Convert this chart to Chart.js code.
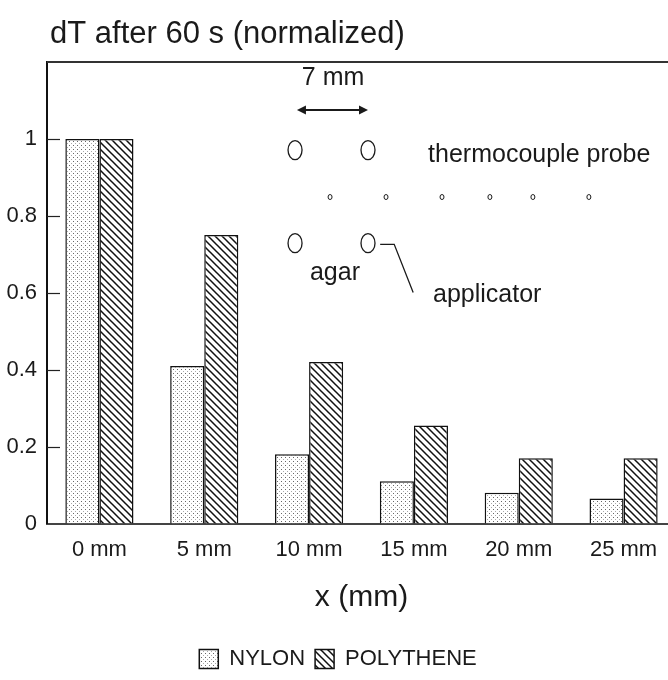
<!DOCTYPE html>
<html>
<head>
<meta charset="utf-8">
<script src="https://cdn.jsdelivr.net/npm/chart.js@4.4.1/dist/chart.umd.min.js"></script>
<style>
  html, body { margin: 0; padding: 0; background: #fff; overflow: hidden; }
  #wrap { width: 676px; height: 680px; }
</style>
</head>
<body>
<div id="wrap"><canvas id="chart"></canvas></div>
<script>
const categories = ["0 mm", "5 mm", "10 mm", "15 mm", "20 mm", "25 mm"];
const nylon = [1.0, 0.41, 0.18, 0.11, 0.08, 0.065];
const polythene = [1.0, 0.75, 0.42, 0.255, 0.17, 0.17];
const yTicks = [0, 0.2, 0.4, 0.6, 0.8, 1];

const FONT = "'Liberation Sans', Arial, sans-serif";
const INK = "#1a1a1a";

// stipple fill for nylon
function dotPattern() {
  const c = document.createElement("canvas");
  c.width = 4; c.height = 4;
  const g = c.getContext("2d");
  g.fillStyle = "#fff";
  g.fillRect(0, 0, 4, 4);
  g.fillStyle = "#666";
  g.fillRect(1, 1, 1, 1);
  g.fillStyle = "#aaa";
  g.fillRect(3, 3, 1, 1);
  return g.createPattern(c, "repeat");
}

// backslash hatch for polythene
function hatchPattern() {
  const s = 7;
  const c = document.createElement("canvas");
  c.width = s; c.height = s;
  const g = c.getContext("2d");
  g.fillStyle = "#fff";
  g.fillRect(0, 0, s, s);
  g.strokeStyle = "#111";
  g.lineWidth = 1.5;
  g.beginPath();
  g.moveTo(-1, -1); g.lineTo(s + 1, s + 1);
  g.moveTo(-1, s - 1); g.lineTo(1, s + 1);
  g.moveTo(s - 1, -1); g.lineTo(s + 1, 1);
  g.stroke();
  return g.createPattern(c, "repeat");
}

// the sketch of the set-up, in data units
const bigRings = [[1.866, 0.971], [2.562, 0.971], [1.866, 0.729], [2.562, 0.729]];
const probes = [[2.20, 0.849], [2.734, 0.849], [3.268, 0.849], [3.725, 0.849], [4.135, 0.849], [4.669, 0.849]];
const notes = [
  { text: "7 mm", x: 2.229, y: 1.158, size: 25, align: "center" },
  { text: "thermocouple probe", x: 3.135, y: 0.958, size: 25, align: "left" },
  { text: "agar", x: 2.008, y: 0.651, size: 25, align: "left" },
  { text: "applicator", x: 3.182, y: 0.593, size: 25, align: "left" }
];
const arrow = [1.884, 2.562, 1.075];
const leader = [[2.678, 0.726], [2.812, 0.726], [2.993, 0.601]];

const extras = {
  id: "extras",
  afterDatasetsDraw(chart) {
    const { ctx, chartArea: a, scales: { x, y } } = chart;
    ctx.save();

    // frame top line and inner tick marks
    ctx.strokeStyle = "#333";
    ctx.lineWidth = 2;
    ctx.beginPath();
    ctx.moveTo(a.left, a.top); ctx.lineTo(a.right, a.top);
    ctx.stroke();
    ctx.lineWidth = 1.2;
    ctx.strokeStyle = "#222";
    yTicks.forEach(v => {
      if (v === 0) return;
      const py = Math.round(y.getPixelForValue(v)) + 0.5;
      ctx.beginPath();
      ctx.moveTo(a.left, py); ctx.lineTo(a.left + 13, py);
      ctx.stroke();
    });

    // sketch
    ctx.strokeStyle = INK;
    ctx.lineWidth = 1.3;
    bigRings.forEach(([i, v]) => {
      ctx.beginPath();
      ctx.ellipse(x.getPixelForValue(i), y.getPixelForValue(v), 7, 9.5, 0, 0, Math.PI * 2);
      ctx.stroke();
    });
    ctx.lineWidth = 1;
    probes.forEach(([i, v]) => {
      ctx.beginPath();
      ctx.ellipse(x.getPixelForValue(i), y.getPixelForValue(v), 2, 2.5, 0, 0, Math.PI * 2);
      ctx.stroke();
    });

    // 7 mm arrow
    const ax1 = x.getPixelForValue(arrow[0]), ax2 = x.getPixelForValue(arrow[1]);
    const ay = y.getPixelForValue(arrow[2]);
    ctx.lineWidth = 2;
    ctx.beginPath();
    ctx.moveTo(ax1 + 4, ay); ctx.lineTo(ax2 - 4, ay);
    ctx.stroke();
    ctx.fillStyle = INK;
    [[ax1, 1], [ax2, -1]].forEach(([px, d]) => {
      ctx.beginPath();
      ctx.moveTo(px, ay);
      ctx.lineTo(px + 9 * d, ay - 4.5);
      ctx.lineTo(px + 9 * d, ay + 4.5);
      ctx.closePath();
      ctx.fill();
    });

    // applicator leader
    ctx.lineWidth = 1.3;
    ctx.beginPath();
    leader.forEach(([i, v], k) => {
      const px = x.getPixelForValue(i), py = y.getPixelForValue(v);
      if (k === 0) ctx.moveTo(px, py); else ctx.lineTo(px, py);
    });
    ctx.stroke();

    ctx.textBaseline = "middle";
    notes.forEach(n => {
      ctx.font = n.size + "px " + FONT;
      ctx.textAlign = n.align;
      ctx.fillText(n.text, x.getPixelForValue(n.x), y.getPixelForValue(n.y));
    });

    // chart title
    ctx.font = "31px " + FONT;
    ctx.textAlign = "left";
    ctx.textBaseline = "alphabetic";
    ctx.fillText("dT after 60 s (normalized)", 50, 43);
    ctx.restore();
  }
};

new Chart(document.getElementById("chart"), {
  type: "bar",
  data: {
    labels: categories,
    datasets: [
      {
        label: "NYLON",
        data: nylon,
        backgroundColor: dotPattern(),
        borderColor: "#111",
        borderWidth: 1.5
      },
      {
        label: "POLYTHENE",
        data: polythene,
        backgroundColor: hatchPattern(),
        borderColor: "#111",
        borderWidth: 1.5
      }
    ]
  },
  options: {
    responsive: true,
    maintainAspectRatio: false,
    animation: false,
    layout: { padding: { top: 62, left: 0, right: 0, bottom: 0 } },
    datasets: { bar: { categoryPercentage: 0.65, barPercentage: 1.0 } },
    scales: {
      x: {
        grid: { display: false, drawTicks: false },
        border: { display: true, color: "#444", width: 2 },
        ticks: { color: INK, font: { family: FONT, size: 22 }, padding: 13, maxRotation: 0 },
        title: {
          display: true,
          text: "x (mm)",
          color: INK,
          font: { family: FONT, size: 30 },
          padding: { top: 4, bottom: 22 }
        }
      },
      y: {
        min: 0,
        max: 1.2,
        afterFit(scale) { scale.width = 47; },
        afterBuildTicks(scale) { scale.ticks = yTicks.map(v => ({ value: v })); },
        grid: { display: false, drawTicks: false },
        border: { display: true, color: "#111", width: 2 },
        ticks: {
          color: INK,
          padding: 10,
          font: { family: FONT, size: 22 },
          callback: v => String(Number(v.toFixed(1)))
        }
      }
    },
    plugins: {
      legend: {
        position: "bottom",
        labels: {
          color: INK,
          boxWidth: 19,
          boxHeight: 19,
          padding: 10,
          font: { family: FONT, size: 22 }
        }
      },
      tooltip: { enabled: false }
    }
  },
  plugins: [extras]
});
</script>
</body>
</html>
